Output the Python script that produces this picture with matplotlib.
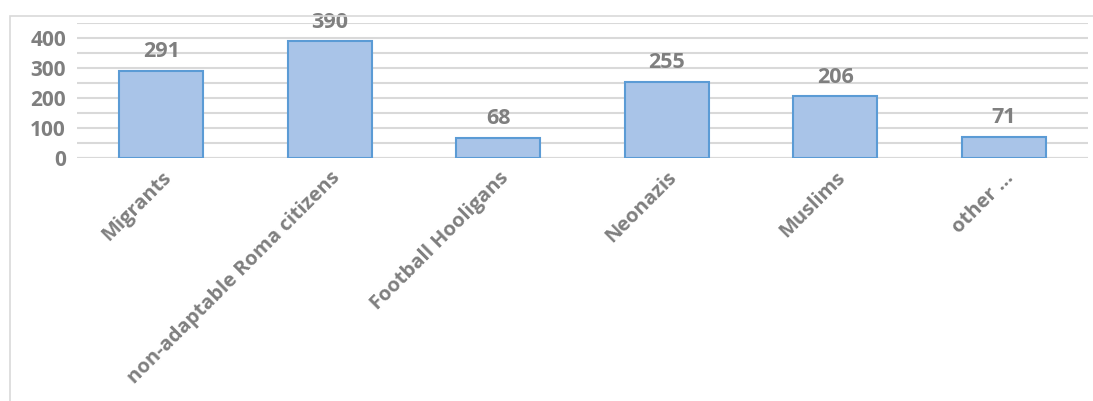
import matplotlib
matplotlib.use("Agg")
import matplotlib.pyplot as plt
from matplotlib.patches import Rectangle

categories = ["Migrants", "non-adaptable Roma citizens", "Football Hooligans",
              "Neonazis", "Muslims", "other \u2026"]
counts = [291, 390, 68, 255, 206, 71]
yticks = [0, 100, 200, 300, 400]

TEXT = "#7f7f7f"
GRID = "#d9d9d9"
FILL = "#a9c4e8"
EDGE = "#5b9bd5"

plt.rcParams["font.family"] = ["Open Sans", "DejaVu Sans"]
plt.rcParams["font.weight"] = "bold"

W, H = 1093, 401
fig = plt.figure(figsize=(W / 100, H / 100), dpi=100)
ax = fig.add_axes([77 / W, 1 - 158 / H, (1088 - 77) / W, 135 / H])

# chart frame, cut off at the right and bottom
fig.patches.append(Rectangle((10 / W, -0.1), 1.2, 1 - 16 / H + 0.1, transform=fig.transFigure,
                             fill=False, ec=GRID, lw=1.2))

x = range(len(categories))
ax.bar(x, counts, width=0.5, color=FILL, edgecolor=EDGE, linewidth=1.5, zorder=3)
for xi, v in zip(x, counts):
    ax.annotate(str(v), (xi, v), xytext=(0, 6), textcoords="offset points",
                ha="center", va="bottom", fontsize=15.5, fontweight="bold", color=TEXT)

ax.set_xlim(-0.5, len(categories) - 0.5)
ax.set_ylim(0, 450)
ax.set_yticks(yticks)
ax.set_yticks(range(0, 451, 50), minor=True)
ax.yaxis.grid(True, which="both", color=GRID, lw=1.5, zorder=0)
ax.tick_params(axis="y", which="both", length=0, pad=8, labelsize=15, labelcolor=TEXT)
for lab in ax.get_yticklabels():
    lab.set_fontweight("bold")
ax.set_xticks(list(x))
ax.set_xticklabels(categories, rotation=45, ha="right", va="top", rotation_mode="anchor",
                   fontsize=14.5, fontweight="bold", color=TEXT)
ax.tick_params(axis="x", length=0, pad=7)
for s in ax.spines.values():
    s.set_visible(False)
ax.axhline(0, color=GRID, lw=1.5, zorder=2)

fig.savefig("out.png", dpi=100, facecolor="white")
